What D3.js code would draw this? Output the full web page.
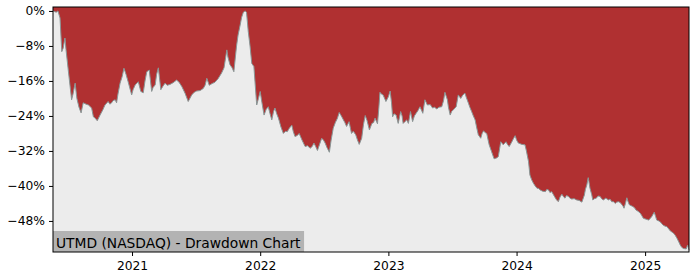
<!DOCTYPE html>
<html>
<head>
<meta charset="utf-8">
<script src="https://d3js.org/d3.v7.min.js"></script>
<style>
  body { margin: 0; background: #fff; }
  svg { display: block; font-family: "DejaVu Sans", sans-serif; }
</style>
</head>
<body>
<svg width="700" height="280"></svg>
<script>
// drawdown series
var dates = [
  "2020-05-21","2020-05-30","2020-06-04","2020-06-10","2020-06-15","2020-06-19","2020-06-24","2020-06-27",
  "2020-07-04","2020-07-13","2020-07-17","2020-07-23","2020-07-28","2020-08-03","2020-08-09","2020-08-15",
  "2020-08-23","2020-08-30","2020-09-08","2020-09-13","2020-09-18","2020-09-24","2020-10-02","2020-10-10",
  "2020-10-16","2020-10-25","2020-10-30","2020-11-04","2020-11-08","2020-11-14","2020-11-18","2020-11-22",
  "2020-11-28","2020-12-04","2020-12-09","2020-12-15","2020-12-21","2020-12-31","2021-01-04","2021-01-10",
  "2021-01-19","2021-01-26","2021-02-02","2021-02-07","2021-02-12","2021-02-19","2021-02-26","2021-03-02",
  "2021-03-08","2021-03-12","2021-03-17","2021-03-24","2021-03-30","2021-04-05","2021-04-11","2021-04-19",
  "2021-04-28","2021-05-08","2021-05-15","2021-05-23","2021-06-01","2021-06-10","2021-06-20","2021-06-27",
  "2021-07-04","2021-07-14","2021-07-23","2021-07-28","2021-08-02","2021-08-09","2021-08-17","2021-08-25",
  "2021-09-03","2021-09-13","2021-09-20","2021-09-28","2021-10-01","2021-10-07","2021-10-13","2021-10-18",
  "2021-10-23","2021-10-26","2021-10-30","2021-11-05","2021-11-09","2021-11-14","2021-11-19","2021-11-23",
  "2021-11-28","2021-12-03","2021-12-08","2021-12-14","2021-12-22","2021-12-27","2022-01-01","2022-01-06",
  "2022-01-12","2022-01-18","2022-01-24","2022-01-29","2022-02-03","2022-02-08","2022-02-12","2022-02-17",
  "2022-02-22","2022-03-01","2022-03-08","2022-03-14","2022-03-19","2022-03-25","2022-04-01","2022-04-05",
  "2022-04-10","2022-04-16","2022-04-22","2022-04-30","2022-05-09","2022-05-16","2022-05-23","2022-05-29",
  "2022-06-03","2022-06-08","2022-06-13","2022-06-19","2022-06-25","2022-06-30","2022-07-05","2022-07-10",
  "2022-07-17","2022-07-22","2022-07-28","2022-08-03","2022-08-09","2022-08-14","2022-08-20","2022-08-26",
  "2022-08-30","2022-09-04","2022-09-11","2022-09-18","2022-09-23","2022-09-30","2022-10-05","2022-10-10",
  "2022-10-17","2022-10-22","2022-10-27","2022-11-01","2022-11-08","2022-11-15","2022-11-20","2022-11-24",
  "2022-12-01","2022-12-05","2022-12-08","2022-12-12","2022-12-17","2022-12-25","2023-01-01","2023-01-06",
  "2023-01-10","2023-01-13","2023-01-17","2023-01-23","2023-01-29","2023-02-05","2023-02-09","2023-02-12",
  "2023-02-17","2023-02-22","2023-02-27","2023-03-05","2023-03-11","2023-03-16","2023-03-21","2023-03-26",
  "2023-04-01","2023-04-09","2023-04-15","2023-04-22","2023-04-30","2023-05-07","2023-05-12","2023-05-19",
  "2023-05-25","2023-06-02","2023-06-07","2023-06-11","2023-06-18","2023-06-21","2023-06-26","2023-06-30",
  "2023-07-05","2023-07-13","2023-07-19","2023-07-26","2023-08-01","2023-08-07","2023-08-11","2023-08-17",
  "2023-08-21","2023-08-26","2023-08-31","2023-09-05","2023-09-09","2023-09-14","2023-09-21","2023-09-25",
  "2023-09-29","2023-10-03","2023-10-08","2023-10-12","2023-10-15","2023-10-22","2023-10-29","2023-11-05",
  "2023-11-10","2023-11-17","2023-11-24","2023-12-02","2023-12-06","2023-12-11","2023-12-18","2023-12-23",
  "2023-12-28","2024-01-01","2024-01-06","2024-01-16","2024-01-25","2024-01-29","2024-02-04","2024-02-08",
  "2024-02-13","2024-02-18","2024-02-23","2024-02-28","2024-03-04","2024-03-08","2024-03-15","2024-03-23",
  "2024-03-27","2024-04-01","2024-04-05","2024-04-10","2024-04-15","2024-04-20","2024-04-24","2024-04-29",
  "2024-05-04","2024-05-09","2024-05-14","2024-05-18","2024-05-22","2024-05-28","2024-06-01","2024-06-06",
  "2024-06-13","2024-06-20","2024-06-27","2024-07-05","2024-07-08","2024-07-12","2024-07-15","2024-07-19",
  "2024-07-23","2024-07-25","2024-07-28","2024-08-02","2024-08-05","2024-08-10","2024-08-15","2024-08-20",
  "2024-08-26","2024-08-30","2024-09-04","2024-09-11","2024-09-19","2024-09-23","2024-09-28","2024-10-03",
  "2024-10-08","2024-10-12","2024-10-17","2024-10-22","2024-10-27","2024-10-30","2024-11-02","2024-11-06",
  "2024-11-10","2024-11-13","2024-11-17","2024-11-22","2024-11-27","2024-12-02","2024-12-06","2024-12-12",
  "2024-12-18","2024-12-22","2024-12-27","2025-01-04","2025-01-11","2025-01-15","2025-01-20","2025-01-27",
  "2025-01-31","2025-02-03","2025-02-09","2025-02-13","2025-02-17","2025-02-22","2025-02-27","2025-03-04",
  "2025-03-09","2025-03-14","2025-03-18","2025-03-23","2025-03-28","2025-04-02","2025-04-07","2025-04-11",
  "2025-04-15","2025-04-20","2025-04-28","2025-05-02","2025-05-06"
];
var drawdown = [
  0,-0.3,0,-1.6,-9.3,-8.5,-6.2,-8.8,
  -13.9,-20.3,-19,-16.5,-20,-22,-23.3,-21,
  -21.3,-21.5,-22.2,-24.2,-24.5,-25.1,-23.8,-22.6,
  -21.5,-20.7,-21.3,-21,-20.5,-20.3,-21,-19,
  -16.5,-15,-13.1,-14.5,-16.2,-19.2,-18,-16.9,
  -16.2,-18.4,-18.7,-16,-13.9,-13.5,-18.4,-17.5,
  -16.9,-14.5,-13,-18,-17.2,-16.5,-17,-16.8,
  -16.4,-15.8,-16.3,-17.3,-18.8,-20.7,-19.2,-18.6,
  -18.3,-18.2,-17.7,-17,-15.4,-17,-16.6,-16.3,
  -15.5,-14.2,-13,-8.9,-10.5,-12.3,-13,-13.9,
  -10,-7.8,-5.5,-3.2,-1.5,-0.3,0,-0.3,
  -4.7,-8,-12,-12.7,-21.5,-20,-18.4,-21,
  -23.8,-22.5,-21.9,-23.5,-24.9,-23,-22.2,-23.5,
  -24.5,-26.5,-28,-27.5,-27.6,-26.8,-26.1,-27.5,
  -28.7,-28.5,-28,-29.5,-31,-30.8,-31.4,-31,
  -30.2,-31,-31.9,-30.5,-29.1,-29.5,-30.2,-31.2,
  -32.3,-29.5,-26.8,-25.5,-24.5,-23.2,-24,-24.9,
  -25.5,-26.4,-25.3,-28,-27.5,-28.3,-29.5,-30.5,
  -29.1,-26,-23.9,-25,-27.2,-25.7,-25.5,-24.5,
  -25.8,-22,-18.6,-19,-19.2,-20.7,-19.6,-18.3,
  -21,-24.2,-23.5,-23.8,-25.7,-23,-24,-25.7,
  -25.3,-24.9,-25.7,-23,-25.3,-24,-23.4,-22.8,
  -21.9,-23.4,-20.3,-21.5,-21.4,-22.2,-22,-22.4,
  -22,-21.9,-20.5,-18.6,-20.3,-22,-23.8,-23,
  -22.6,-21.9,-19.2,-20,-19.2,-18.8,-19.8,-21.1,
  -22,-23,-24,-24.9,-26.5,-28.3,-29.1,-28,
  -27.4,-27.8,-28,-29.5,-30.6,-32.2,-33.8,-33.6,
  -33.3,-29.9,-30.6,-29.9,-30.5,-31,-30,-29.2,
  -28.5,-29.5,-30.2,-30.5,-30.6,-32,-34.4,-37.5,
  -38.6,-39.4,-40,-40.5,-40.6,-40.9,-41.2,-41.3,
  -40.8,-40.9,-41.5,-41.3,-42,-42.7,-43.2,-43.6,
  -42.5,-41.9,-42.5,-42.8,-42.2,-42.4,-42.8,-43,
  -42.9,-43.2,-43.3,-43.7,-43,-42.1,-40.8,-39.8,
  -38.1,-39,-40.5,-42,-43.2,-42.9,-42.8,-42.3,
  -42.4,-42.9,-43.2,-42.8,-43.2,-43,-43.6,-43.6,
  -44,-43.7,-43.6,-43.8,-44.3,-44.6,-45.1,-44,
  -42.7,-43.5,-44.3,-44.5,-44.7,-45,-45.5,-45.8,
  -46.2,-46.7,-47.4,-47.6,-47.8,-47.5,-47,-46,
  -47,-47.8,-48,-48.2,-48.6,-49,-49.2,-49.3,
  -49.8,-50.3,-50.5,-50.8,-51.3,-52,-52.8,-53.5,
  -54,-54.3,-54.4,-53.5,-54.6
];
var yTicks = [0, -8, -16, -24, -32, -40, -48];
var xTicks = ["2021-01-01", "2022-01-01", "2023-01-01", "2024-01-01", "2025-01-01"];
var title = "UTMD (NASDAQ) - Drawdown Chart";

var parse = d3.timeParse("%Y-%m-%d");
var data = dates.map(function(d, i) { return {date: parse(d), dd: drawdown[i]}; });

var svg = d3.select("svg");
var mLeft = 53, mRight = 689, mTop = 7, mBottom = 252;

var x = d3.scaleTime()
    .domain(d3.extent(data, function(d) { return d.date; }))
    .range([mLeft, mRight]);
var y = d3.scaleLinear()
    .domain([-55.1, 0.9])
    .range([mBottom, mTop]);

// axes background
svg.append("rect")
    .attr("x", mLeft).attr("y", mTop)
    .attr("width", mRight - mLeft).attr("height", mBottom - mTop)
    .attr("fill", "#ececec");

// red from the top of the axes down to the curve
var area = d3.area()
    .x(function(d) { return x(d.date); })
    .y0(mTop)
    .y1(function(d) { return y(d.dd); });

svg.append("path")
    .datum(data)
    .attr("d", area)
    .attr("fill", "#b03031");

var line = d3.line()
    .x(function(d) { return x(d.date); })
    .y(function(d) { return y(d.dd); });

svg.append("path")
    .datum(data)
    .attr("d", line)
    .attr("fill", "none")
    .attr("stroke", "#8a9696")
    .attr("stroke-width", 1);

// title box
var tg = svg.append("g");
var tt = tg.append("text")
    .attr("x", mLeft + 3)
    .attr("y", mBottom - 4.5)
    .attr("font-size", "13.8px")
    .attr("fill", "#000")
    .text(title);
var bb = tt.node().getBBox();
tg.insert("rect", "text")
    .attr("x", mLeft)
    .attr("y", mBottom - 21)
    .attr("width", bb.width + 6)
    .attr("height", 21)
    .attr("fill", "#b3b3b3");

// axes
var yAxis = d3.axisLeft(y)
    .tickValues(yTicks)
    .tickSize(4)
    .tickPadding(4)
    .tickFormat(function(d) { return (d < 0 ? "\u2212" + (-d) : d) + "%"; });
var gy = svg.append("g")
    .attr("transform", "translate(" + mLeft + ",0)")
    .call(yAxis);

var xAxis = d3.axisBottom(x)
    .tickValues(xTicks.map(parse))
    .tickSize(4)
    .tickPadding(5)
    .tickFormat(d3.timeFormat("%Y"));
var gx = svg.append("g")
    .attr("transform", "translate(0," + mBottom + ")")
    .call(xAxis);

[gx, gy].forEach(function(g) {
  g.select(".domain").remove();
  g.selectAll("text")
    .attr("font-family", "DejaVu Sans, sans-serif")
    .attr("font-size", "12.3px")
    .attr("fill", "#000");
  g.selectAll("line").attr("stroke", "#000");
});

// frame
svg.append("rect")
    .attr("x", mLeft).attr("y", mTop)
    .attr("width", mRight - mLeft).attr("height", mBottom - mTop)
    .attr("fill", "none")
    .attr("stroke", "#000")
    .attr("stroke-width", 1);
</script>
</body>
</html>
